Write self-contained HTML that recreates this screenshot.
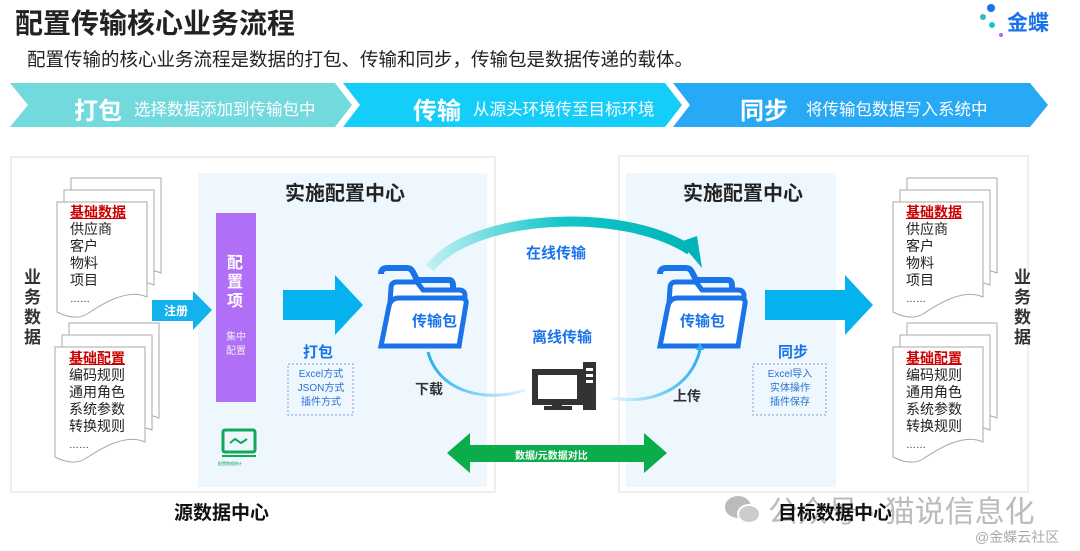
<!DOCTYPE html>
<html><head><meta charset="utf-8">
<style>
body{margin:0;width:1080px;height:551px;background:#fff;position:relative;overflow:hidden;font-family:"Liberation Sans","Noto Sans CJK SC",sans-serif;}
.t{position:absolute;white-space:nowrap;}
.b{font-weight:bold;}
</style></head><body>
<svg width="1080" height="551" style="position:absolute;left:0;top:0">
<defs>
<linearGradient id="gt" x1="0" x2="1"><stop offset="0" stop-color="#bff0f2"/><stop offset="0.5" stop-color="#14c6c8"/><stop offset="1" stop-color="#00b4b8"/></linearGradient>
<linearGradient id="gd" x1="0" x2="1"><stop offset="0" stop-color="#2ab0ea"/><stop offset="1" stop-color="#dff6ff"/></linearGradient>
<linearGradient id="gu" x1="0" x2="1"><stop offset="0" stop-color="#dff6ff"/><stop offset="1" stop-color="#2ab0ea"/></linearGradient>
<g id="page"><path d="M0 0H90V95C70 86 45 102 30 112C20 118 8 114 0 110Z" fill="#fff" stroke="#aaa" stroke-width="1"/></g>
<g id="doc"><use href="#page" x="14" y="-24"/><use href="#page" x="7" y="-12"/><use href="#page"/></g>
<g id="folder">
<path d="M2 6 Q2 0 8 0 H28 Q32 0 34 4 L38 12 H70 Q74 12 74 18 V60" fill="none" stroke="#1a73e8" stroke-width="6"/>
<path d="M12 20 Q12 14 18 14 H38 L44 22 H80 Q86 22 86 28 L80 78 H8 Z" fill="#fff" stroke="#1a73e8" stroke-width="5"/>
<path d="M10 38 Q12 30 20 30 H82 Q88 30 87 36 L80 78 H2 Z" fill="#fff" stroke="#1a73e8" stroke-width="5"/>
</g>
</defs>
<polygon points="10,83 335,83 352,105 335,127 10,127 28,105" fill="#72d9dc"/>
<polygon points="343,83 665,83 682,105 665,127 343,127 360,105" fill="#14cdf9"/>
<polygon points="673,83 1030,83 1048,105 1030,127 673,127 690,105" fill="#27a9f5"/>
<rect x="11" y="157" width="484" height="335" fill="#fff" stroke="#ddd"/>
<rect x="198" y="173" width="289" height="314" fill="#eef7fd"/>
<rect x="619" y="156" width="409" height="336" fill="#fff" stroke="#ddd"/>
<rect x="626" y="173" width="210" height="314" fill="#eef7fd"/>
<use href="#doc" x="57" y="202"/>
<use href="#doc" x="55" y="347"/>
<use href="#doc" x="893" y="202"/>
<use href="#doc" x="893" y="347"/>
<rect x="216" y="213" width="40" height="189" fill="#b16ef6"/>
<polygon points="152,300 193,300 193,291 212,310 193,330 193,321 152,321" fill="#13b2ec"/>
<polygon points="283,290 335,290 335,275 363,305 335,335 335,320 283,320" fill="#05b2ee"/>
<polygon points="765,290 845,290 845,275 873,305 845,335 845,320 765,320" fill="#05b2ee"/>
<use href="#folder" x="379" y="268"/>
<use href="#folder" x="658" y="268"/>
<path d="M430 268 C 470 215 620 205 690 250" fill="none" stroke="url(#gt)" stroke-width="10"/>
<polygon points="680,242 702,268 697,236" fill="#00b4b8"/>
<path d="M428 352 C 440 395 490 402 525 390" fill="none" stroke="url(#gd)" stroke-width="3"/>
<path d="M612 398 C 650 405 690 390 700 350" fill="none" stroke="url(#gu)" stroke-width="3"/>
<polygon points="696,350 704,350 700,343" fill="#2ab0ea"/>
<rect x="535" y="372" width="45" height="30" fill="none" stroke="#333" stroke-width="6"/>
<rect x="552" y="402" width="10" height="5" fill="#333"/><rect x="544" y="406" width="28" height="4" fill="#333"/>
<rect x="583" y="362" width="13" height="48" fill="#333"/>
<rect x="586" y="368" width="7" height="3" fill="#fff"/><rect x="586" y="374" width="7" height="3" fill="#fff"/><rect x="586" y="380" width="7" height="3" fill="#fff"/>
<polygon points="447,453 470,433 470,445 644,445 644,433 667,453 644,473 644,462 470,462 470,473" fill="#0aad4a"/>
<rect x="288" y="364" width="65" height="51" fill="none" stroke="#7a9fd8" stroke-dasharray="2,2"/>
<rect x="753" y="364" width="73" height="51" fill="none" stroke="#7a9fd8" stroke-dasharray="2,2"/>
<rect x="223" y="430" width="32" height="22" rx="2" fill="none" stroke="#11a85a" stroke-width="3"/>
<line x1="222" y1="456" x2="256" y2="456" stroke="#11a85a" stroke-width="2"/>
<path d="M230 443 l5 -4 l6 4 l6 -4" fill="none" stroke="#11a85a" stroke-width="2"/>
<circle cx="991" cy="8" r="4" fill="#1a73e8"/><circle cx="983" cy="17" r="3" fill="#3bb"/><circle cx="992" cy="25" r="3" fill="#1cc"/><circle cx="1001" cy="35" r="2" fill="#a6f"/>
<ellipse cx="738" cy="507" rx="13" ry="11" fill="#bbb"/><ellipse cx="749" cy="514" rx="11" ry="9" fill="#ccc" stroke="#fff" stroke-width="2"/>
</svg>

<div class="t b" style="left:15px;top:2px;font-size:28px;color:#222">配置传输核心业务流程</div>
<div class="t b" style="left:1007px;top:7px;font-size:21px;color:#1a73e8">金蝶</div>
<div class="t" style="left:27px;top:46px;font-size:18.5px;color:#222">配置传输的核心业务流程是数据的打包、传输和同步，传输包是数据传递的载体。</div>

<div class="t b" style="left:74px;top:91px;font-size:24px;color:#fff">打包</div>
<div class="t" style="left:134px;top:96px;font-size:16.5px;color:#fff">选择数据添加到传输包中</div>
<div class="t b" style="left:413px;top:91px;font-size:24px;color:#fff">传输</div>
<div class="t" style="left:473px;top:96px;font-size:16.5px;color:#fff">从源头环境传至目标环境</div>
<div class="t b" style="left:740px;top:91px;font-size:24px;color:#fff">同步</div>
<div class="t" style="left:806px;top:96px;font-size:16.5px;color:#fff">将传输包数据写入系统中</div>

<div class="t b" style="left:285px;top:177px;font-size:20px;color:#222">实施配置中心</div>
<div class="t b" style="left:683px;top:177px;font-size:20px;color:#222">实施配置中心</div>

<div class="t b" style="left:24px;top:268px;font-size:17px;line-height:20px;width:18px;color:#333;white-space:normal">业务数据</div>
<div class="t b" style="left:1014px;top:268px;font-size:17px;line-height:20px;width:18px;color:#333;white-space:normal">业务数据</div>

<div class="t" style="left:70px;top:204px;font-size:14px;line-height:17px;color:#222"><span style="color:#c00;font-weight:bold;text-decoration:underline">基础数据</span><br>供应商<br>客户<br>物料<br>项目<br><span style="font-size:10px">……</span></div>
<div class="t" style="left:69px;top:350px;font-size:14px;line-height:17px;color:#222"><span style="color:#c00;font-weight:bold;text-decoration:underline">基础配置</span><br>编码规则<br>通用角色<br>系统参数<br>转换规则<br><span style="font-size:10px">……</span></div>
<div class="t" style="left:906px;top:204px;font-size:14px;line-height:17px;color:#222"><span style="color:#c00;font-weight:bold;text-decoration:underline">基础数据</span><br>供应商<br>客户<br>物料<br>项目<br><span style="font-size:10px">……</span></div>
<div class="t" style="left:906px;top:350px;font-size:14px;line-height:17px;color:#222"><span style="color:#c00;font-weight:bold;text-decoration:underline">基础配置</span><br>编码规则<br>通用角色<br>系统参数<br>转换规则<br><span style="font-size:10px">……</span></div>

<div class="t b" style="left:164px;top:302px;font-size:12px;color:#fff">注册</div>
<div class="t b" style="left:227px;top:254px;font-size:16px;line-height:19px;width:18px;white-space:normal;color:#fff">配置项</div>
<div class="t" style="left:226px;top:331px;font-size:10px;line-height:14px;color:#eee;text-align:center">集中<br>配置</div>
<div class="t" style="left:218px;top:461px;font-size:4px;color:#11a85a">配置数据统计</div>

<div class="t b" style="left:303px;top:341px;font-size:15px;color:#1a73e8">打包</div>
<div class="t" style="left:290px;top:368px;width:62px;text-align:center;font-size:10px;line-height:14px;color:#2a70d0">Excel方式<br>JSON方式<br>插件方式</div>
<div class="t b" style="left:778px;top:341px;font-size:15px;color:#1a73e8">同步</div>
<div class="t" style="left:755px;top:368px;width:70px;text-align:center;font-size:10px;line-height:14px;color:#2a70d0">Excel导入<br>实体操作<br>插件保存</div>

<div class="t b" style="left:412px;top:310px;font-size:15px;color:#1a73e8">传输包</div>
<div class="t b" style="left:680px;top:310px;font-size:15px;color:#1a73e8">传输包</div>
<div class="t b" style="left:526px;top:242px;font-size:15px;color:#1a73e8">在线传输</div>
<div class="t b" style="left:532px;top:326px;font-size:15px;color:#1a73e8">离线传输</div>
<div class="t b" style="left:415px;top:379px;font-size:14px;color:#333">下载</div>
<div class="t b" style="left:673px;top:386px;font-size:14px;color:#333">上传</div>
<div class="t b" style="left:515px;top:447px;font-size:10px;color:#fff">数据/元数据对比</div>

<div class="t b" style="left:174px;top:498px;font-size:19px;color:#111">源数据中心</div>
<div class="t" style="left:768px;top:487px;font-size:30px;color:#bbb">公众号 · 猫说信息化</div>
<div class="t b" style="left:778px;top:498px;font-size:19px;color:#111">目标数据中心</div>
<div class="t" style="left:975px;top:527px;font-size:14px;color:#aaa">@金蝶云社区</div>
</body></html>
